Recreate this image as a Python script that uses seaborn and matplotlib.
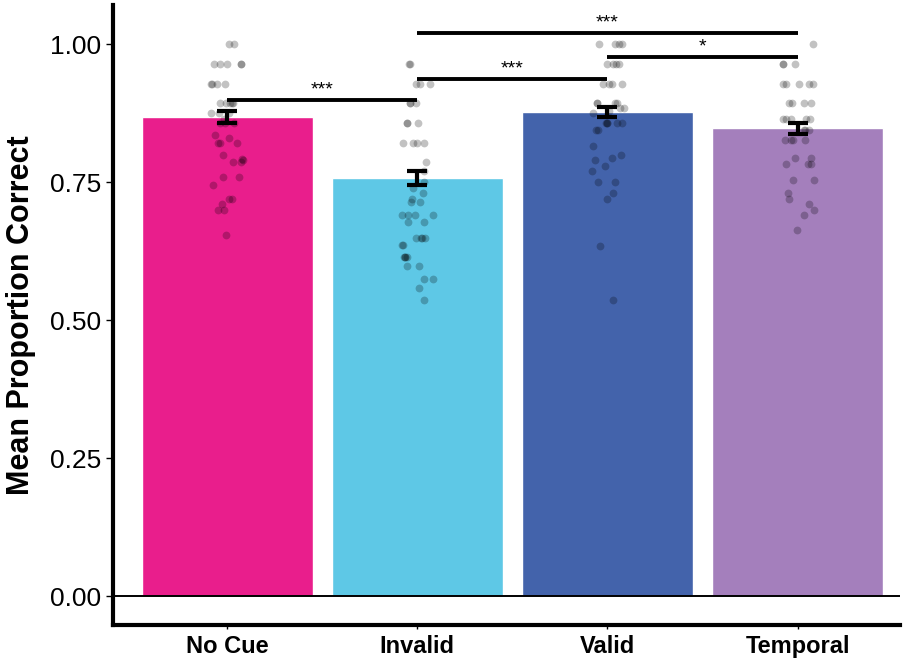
import numpy as np
import pandas as pd
import seaborn as sns
import matplotlib.pyplot as plt

conditions = ["No Cue", "Invalid", "Valid", "Temporal"]
colors = ["#E91E8C", "#5EC8E6", "#4363AB", "#A47FBC"]
means = [0.868, 0.758, 0.877, 0.848]
ses = [0.011, 0.013, 0.009, 0.010]

# individual participant proportions
no_cue = [1.0, 1.0, 0.964, 0.964, 0.964, 0.964, 0.964, 0.929, 0.929, 0.929, 0.929,
          0.893, 0.893, 0.893, 0.893, 0.893, 0.875, 0.875, 0.875, 0.864, 0.857, 0.857,
          0.857, 0.835, 0.83, 0.821, 0.821, 0.821, 0.80, 0.793, 0.79, 0.786, 0.786,
          0.76, 0.76, 0.745, 0.72, 0.72, 0.71, 0.70, 0.70, 0.655]
invalid = [0.964, 0.964, 0.929, 0.929, 0.929, 0.893, 0.893, 0.893, 0.857, 0.857,
           0.857, 0.821, 0.821, 0.821, 0.821, 0.786, 0.77, 0.75, 0.74, 0.73, 0.72,
           0.714, 0.714, 0.69, 0.69, 0.69, 0.69, 0.679, 0.679, 0.65, 0.65, 0.65, 0.65,
           0.636, 0.636, 0.614, 0.614, 0.614, 0.614, 0.598, 0.598, 0.575, 0.575,
           0.558, 0.536]
valid = [1.0, 1.0, 1.0, 1.0, 0.964, 0.964, 0.964, 0.964, 0.929, 0.929, 0.929, 0.929,
         0.893, 0.893, 0.893, 0.893, 0.885, 0.885, 0.88, 0.875, 0.857, 0.857, 0.857,
         0.857, 0.857, 0.845, 0.845, 0.815, 0.80, 0.795, 0.79, 0.78, 0.77, 0.75, 0.75,
         0.73, 0.72, 0.635, 0.536]
temporal = [1.0, 0.964, 0.964, 0.964, 0.929, 0.929, 0.929, 0.929, 0.929, 0.893, 0.893,
            0.893, 0.893, 0.864, 0.864, 0.864, 0.864, 0.864, 0.845, 0.845, 0.845,
            0.826, 0.826, 0.826, 0.826, 0.795, 0.795, 0.783, 0.783, 0.783, 0.754,
            0.754, 0.73, 0.72, 0.71, 0.70, 0.69, 0.663]

sig_pairs = [(0, 1), (1, 2), (2, 3), (1, 3)]
sig_heights = [0.899, 0.937, 0.977, 1.020]
sig_labels = ["***", "***", "*", "***"]

sns.set_style("white")
plt.rcParams["font.family"] = ["Liberation Sans", "DejaVu Sans"]
plt.rcParams["text.color"] = "black"
plt.rcParams["axes.labelcolor"] = "black"
plt.rcParams["xtick.color"] = "black"
plt.rcParams["ytick.color"] = "black"

df = pd.concat([
    pd.DataFrame({"condition": c, "prop": v})
    for c, v in zip(conditions, [no_cue, invalid, valid, temporal])
])

fig = plt.figure(figsize=(9.04, 6.6), dpi=100)
ax = fig.add_axes([0.125, 0.053, 0.871, 0.939])

sns.barplot(x=conditions, y=means, hue=conditions, palette=colors, width=0.9,
            errorbar=None, legend=False, saturation=1, ax=ax, zorder=1)
ax.axhline(0, color="black", lw=1.4, zorder=2)

np.random.seed(3)
sns.stripplot(data=df, x="condition", y="prop", order=conditions, color="black",
              alpha=0.24, size=5.6, jitter=0.09, linewidth=0, ax=ax, zorder=3)

ax.errorbar(range(len(conditions)), means, yerr=ses, fmt="none", ecolor="black",
            elinewidth=3, capsize=7, capthick=3, zorder=5)

for (a, b), h, lab in zip(sig_pairs, sig_heights, sig_labels):
    ax.plot([a, b], [h, h], color="black", lw=2.8, zorder=6, solid_capstyle="butt")
    ax.text((a + b) / 2, h + 0.003, lab, ha="center", va="bottom", fontsize=14, zorder=6)

ax.set_xlim(-0.6, 3.54)
ax.set_ylim(-0.0525, 1.071)
ax.set_yticks([0, 0.25, 0.5, 0.75, 1.0])
ax.set_yticklabels(["0.00", "0.25", "0.50", "0.75", "1.00"])
ax.set_xlabel("")
ax.set_ylabel("Mean Proportion Correct", fontsize=22, fontweight="bold", labelpad=10)
ax.tick_params(axis="y", labelsize=19, direction="out", length=5, width=1, left=True)
ax.tick_params(axis="x", labelsize=17, direction="out", length=3, width=1, bottom=True, pad=4)
for t in ax.get_xticklabels():
    t.set_fontweight("bold")

sns.despine(ax=ax)
ax.spines["left"].set_linewidth(3)
ax.spines["bottom"].set_linewidth(3)
ax.spines["left"].set_color("black")
ax.spines["bottom"].set_color("black")

fig.savefig("out.png", dpi=100)
